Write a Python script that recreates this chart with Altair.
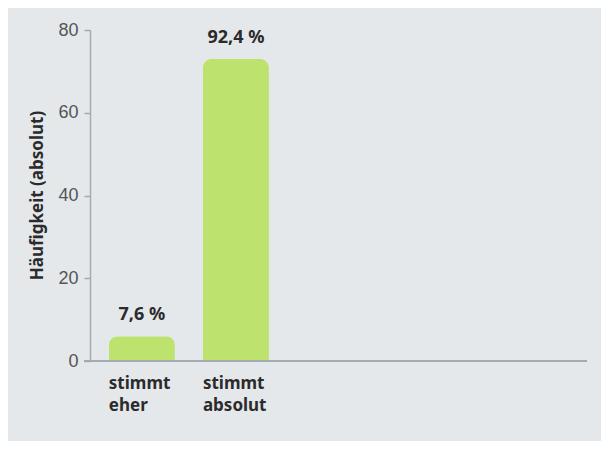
import altair as alt
import pandas as pd

categories = ["stimmt eher", "stimmt absolut"]
counts = [6, 73]
pct_labels = ["7,6 %", "92,4 %"]
empty_slots = [" ", "  ", "   "]
y_ticks = [0, 20, 40, 60, 80]

df = pd.DataFrame({"kat": categories, "n": counts, "pct": pct_labels})

AXIS_COLOR = "#a3aab1"
TEXT_COLOR = "#2b2b2b"

x_scale = alt.Scale(
    domain=categories + empty_slots, paddingInner=0.298, paddingOuter=0.2, range=[0, 480]
)

x_enc = alt.X(
    "kat:N",
    scale=x_scale,
    axis=alt.Axis(
        title=None,
        labelAngle=0,
        labelAlign="left",
        labelOffset=-33,
        labelBaseline="top",
        labelPadding=14,
        labelFont="Noto Sans",
        labelFontWeight="bold",
        labelFontSize=17,
        labelColor=TEXT_COLOR,
        labelLineHeight=22,
        labelExpr="split(datum.label, ' ')",
        ticks=False,
        domain=False,
    ),
)

y_enc = alt.Y(
    "n:Q",
    scale=alt.Scale(domain=[0, 80]),
    axis=alt.Axis(
        values=y_ticks,
        grid=False,
        title="Häufigkeit (absolut)",
        titleFont="Noto Sans",
        titleFontWeight="bold",
        titleFontSize=17,
        titleColor=TEXT_COLOR,
        titleAngle=-90,
        titleX=-53,
        titleY=165,
        titleAlign="center",
        titleBaseline="middle",
        labelFont="Liberation Sans",
        labelFontSize=18,
        labelColor="#555555",
        labelPadding=6,
        tickSize=6,
        tickColor=AXIS_COLOR,
        tickWidth=1.5,
        domainColor=AXIS_COLOR,
        domainWidth=1.5,
    ),
)

bars = alt.Chart(df).mark_bar(
    color="#bde36e", cornerRadiusTopLeft=9, cornerRadiusTopRight=9
).encode(x=x_enc, y=y_enc)

text = alt.Chart(df).mark_text(
    dy=-16, baseline="alphabetic", font="Noto Sans", fontWeight="bold",
    fontSize=18, color=TEXT_COLOR
).encode(x=alt.X("kat:N", scale=x_scale), y="n:Q", text="pct:N")

baseline = alt.Chart(df).mark_rule(color=AXIS_COLOR, strokeWidth=2).encode(
    y=alt.datum(0), x=alt.value(-6), x2=alt.value(497)
)

chart = (
    alt.layer(bars, baseline, text)
    .properties(
        width=497,
        height=331,
        autosize=alt.AutoSizeParams(type="none"),
        padding={"left": 82, "top": 22, "right": 14, "bottom": 80},
        background="#e4e8eb",
    )
    .configure_view(stroke=None)
)

chart.save("out.html", embed_options={"renderer": "svg", "actions": False})
